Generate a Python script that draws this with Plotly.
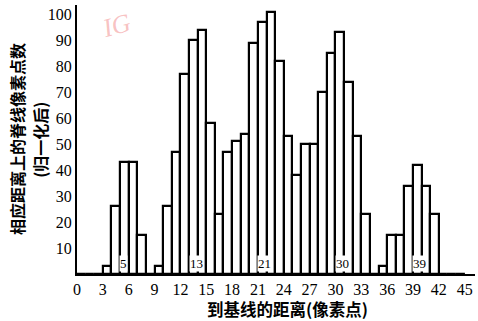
import plotly.graph_objects as go

# distance from baseline (pixels) - left edge of each bar
distance = list(range(0, 45))
# normalised ridge pixel counts at each distance
counts = [0, 0, 0, 3, 26, 43, 43, 15, 0, 3,
          26, 47, 77, 90, 94, 58, 23, 47, 51, 54,
          89, 97, 101, 82, 53, 38, 50, 50, 70, 85,
          93, 74, 53, 23, 0, 3, 15, 15, 34, 42,
          34, 23, 0, 0, 0]

x_ticks = [0, 3, 6, 9, 12, 15, 18, 21, 24, 27, 30, 33, 36, 39, 42, 45]
y_ticks = [10, 20, 30, 40, 50, 60, 70, 80, 90, 100]

peak_labels = ["5", "13", "21", "30", "39"]
peak_pos = [5.4, 13.9, 21.8, 30.8, 39.7]

serif = "Liberation Serif"
cjk = "Noto Sans CJK SC"

fig = go.Figure()
fig.add_trace(go.Bar(
    x=distance, y=counts, width=1, offset=0,
    marker=dict(color="white", line=dict(color="black", width=2.2)),
    showlegend=False, hoverinfo="skip",
))

for lab, xp in zip(peak_labels, peak_pos):
    fig.add_annotation(x=xp, y=4, text=lab, showarrow=False,
                       font=dict(family=serif, size=13, color="black"),
                       bgcolor="white", borderpad=0)

# faint watermark
fig.add_annotation(x=0.1, y=1.0, xref="paper", yref="paper", text="<i>IG</i>",
                   showarrow=False, font=dict(family=serif, size=26, color="rgba(240,120,120,0.45)"),
                   textangle=-15, xanchor="center", yanchor="top")

# y axis title (two lines, rotated)
fig.add_annotation(x=-0.152, y=0.5, xref="paper", yref="paper", xanchor="center",
                   text="<b>相应距离上的脊线像素点数</b>", showarrow=False, textangle=-90,
                   font=dict(family=cjk, size=16, color="black"))
fig.add_annotation(x=-0.095, y=0.5, xref="paper", yref="paper", xanchor="center",
                   text="<b>(归一化后)</b>", showarrow=False, textangle=-90,
                   font=dict(family=cjk, size=16, color="black"))

# x axis title
fig.add_annotation(x=0.53, y=-0.178, xref="paper", yref="paper",
                   text="<b>到基线的距离(像素点)</b>", showarrow=False,
                   xanchor="center", yanchor="bottom", borderpad=0,
                   font=dict(family=cjk, size=16.5, color="black"))

fig.update_layout(
    width=478, height=321,
    margin=dict(l=77, r=3, t=5, b=47, autoexpand=False),
    plot_bgcolor="white", paper_bgcolor="white",
    bargap=0,
    xaxis=dict(range=[0, 46.2], tickvals=x_ticks, ticktext=[str(v) for v in x_ticks],
               showgrid=False, zeroline=False, showline=True, linecolor="black", linewidth=2,
               ticks="", automargin=False, tickfont=dict(family=serif, size=16, color="black")),
    yaxis=dict(range=[0, 103.5], tickvals=y_ticks, ticktext=[str(v) for v in y_ticks],
               showgrid=False, zeroline=False, showline=True, linecolor="black", linewidth=2,
               ticks="", automargin=False, tickfont=dict(family=serif, size=16, color="black")),
)

fig.write_html("out.html", config={"displayModeBar": False},
               post_script="document.body.style.margin='0px';document.body.style.padding='0px';")
